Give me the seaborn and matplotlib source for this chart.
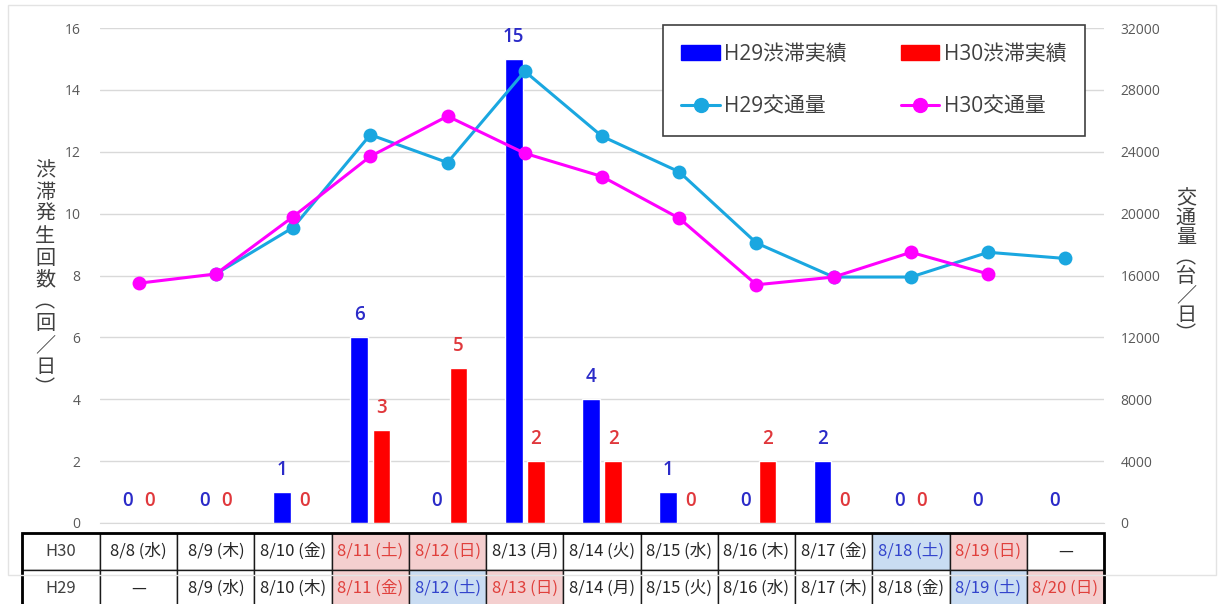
import numpy as np
import pandas as pd
import matplotlib
matplotlib.use('Agg')
import matplotlib.pyplot as plt
from matplotlib.patches import Patch, Rectangle
from matplotlib.lines import Line2D
import seaborn as sns

sns.set_style('white')
plt.rcParams['font.family'] = ['Open Sans', 'Noto Sans CJK JP', 'DejaVu Sans']

# データ
h30_days = ['8/8 (水)', '8/9 (木)', '8/10 (金)', '8/11 (土)', '8/12 (日)', '8/13 (月)', '8/14 (火)',
            '8/15 (水)', '8/16 (木)', '8/17 (金)', '8/18 (土)', '8/19 (日)', '—']
h29_days = ['—', '8/9 (水)', '8/10 (木)', '8/11 (金)', '8/12 (土)', '8/13 (日)', '8/14 (月)',
            '8/15 (火)', '8/16 (水)', '8/17 (木)', '8/18 (金)', '8/19 (土)', '8/20 (日)']
# 曜日の色分け (r: 休日, b: 土曜, k: 平日)
h30_kind = ['k', 'k', 'k', 'r', 'r', 'k', 'k', 'k', 'k', 'k', 'b', 'r', 'k']
h29_kind = ['k', 'k', 'k', 'r', 'b', 'r', 'k', 'k', 'k', 'k', 'k', 'b', 'r']

h29_jam = [0, 0, 1, 6, 0, 15, 4, 1, 0, 2, 0, 0, 0]
h30_jam = [0, 0, 0, 3, 5, 2, 2, 0, 2, 0, 0, np.nan, np.nan]

h29_traffic = [np.nan, 16100, 19100, 25100, 23300, 29200, 25000, 22700, 18100, 15900, 15900, 17500, 17100]
h30_traffic = [15500, 16100, 19800, 23700, 26300, 23900, 22400, 19700, 15400, 15900, 17500, 16100, np.nan]

BLUE = '#0000ff'
RED = '#ff0000'
CYAN = '#1aa7e0'
MAGENTA = '#ff00ff'
GRAY = '#595959'
TXT_COL = {'k': '#262626', 'r': '#e0403c', 'b': '#3344cc'}
CELL_COL = {'k': 'white', 'r': '#f4cfcf', 'b': '#c9dcf2'}

df = pd.DataFrame({
    'day': h30_days * 2,
    'year': ['H29'] * len(h30_days) + ['H30'] * len(h30_days),
    'count': h29_jam + h30_jam,
})

W, H = 1221, 604
fig = plt.figure(figsize=(W / 100, H / 100), dpi=100)
# 外枠
fig.patches.append(Rectangle((8 / W, 1 - 575 / H), 1208 / W, 570 / H, transform=fig.transFigure,
                             fill=False, edgecolor='#e3e3e3', lw=1, zorder=0))
ax = fig.add_axes([100 / W, 1 - 523 / H, 1004 / W, 495 / H])

sns.barplot(data=df, x='day', y='count', hue='year', order=h30_days, hue_order=['H29', 'H30'],
            palette={'H29': BLUE, 'H30': RED}, width=0.57, gap=0.2, saturation=1,
            legend=False, ax=ax)

# 棒のラベル
for cont, col in zip(ax.containers, ['#2b2bc8', '#e0383c']):
    for bar in cont:
        h = bar.get_height()
        if np.isnan(h):
            continue
        ax.annotate(f'{int(h)}', (bar.get_x() + bar.get_width() / 2, h), xytext=(0, 16),
                    textcoords='offset points', ha='center', va='center',
                    fontsize=13.5, color=col, fontweight='semibold')

ax.set_ylim(0, 16)
ax.set_xlim(-0.5, len(h30_days) - 0.5)
ax.set_yticks(np.arange(0, 17, 2))
ax.set_xticks(np.arange(-0.5, len(h30_days), 1), minor=True)
ax.tick_params(axis='x', which='major', length=0, labelbottom=False)
ax.tick_params(axis='x', which='minor', length=5, color='#d9d9d9', width=1)
ax.tick_params(axis='y', length=0, pad=14, labelsize=10, labelcolor=GRAY)
ax.yaxis.grid(True, color='#d9d9d9', lw=1)
ax.set_axisbelow(True)
ax.set_xlabel('')
ax.set_ylabel('')
for s in ['top', 'left', 'right']:
    ax.spines[s].set_visible(False)
ax.spines['bottom'].set_color('#d9d9d9')

# 交通量
ax2 = ax.twinx()
xs = np.arange(len(h30_days))
sns.lineplot(x=xs, y=h29_traffic, color=CYAN, marker='o', markersize=10, markeredgewidth=0,
             linewidth=2.2, ax=ax2)
sns.lineplot(x=xs, y=h30_traffic, color=MAGENTA, marker='o', markersize=10, markeredgewidth=0,
             linewidth=2.2, ax=ax2)
ax2.set_ylim(0, 32000)
ax2.set_yticks(np.arange(0, 32001, 4000))
ax2.tick_params(axis='y', length=0, pad=12, labelsize=10, labelcolor=GRAY)
for s in ax2.spines.values():
    s.set_visible(False)
ax.set_xlim(-0.5, len(h30_days) - 0.5)

# 縦書きの軸ラベル
fig.text(45 / W, 1 - 280 / H, '\n'.join('渋滞発生回数︵回／日︶'), ha='center', va='center',
         fontsize=14.5, linespacing=1.05, color='#404040', family=['Noto Sans CJK JP'])
fig.text(1186 / W, 1 - 267 / H, '\n'.join('交通量︵台／日︶'), ha='center', va='center',
         fontsize=14.5, linespacing=0.9, color='#404040', family=['Noto Sans CJK JP'])

# 凡例
handles = [Patch(color=BLUE), Line2D([], [], color=CYAN, marker='o', markersize=10, lw=2.2),
           Patch(color=RED), Line2D([], [], color=MAGENTA, marker='o', markersize=10, lw=2.2)]
labels = ['H29渋滞実績', 'H29交通量', 'H30渋滞実績', 'H30交通量']
leg = ax2.legend(handles, labels, ncol=2, loc='upper right', bbox_to_anchor=((1085 - 100) / 1004, (523 - 25) / 495),
                 borderaxespad=0, frameon=True, fancybox=False, framealpha=1, edgecolor='#404040',
                 fontsize=15, handlelength=1.85, handletextpad=0.2, columnspacing=2.6, labelspacing=1.5,
                 borderpad=0.9, labelcolor='#404040')
leg.get_frame().set_linewidth(1.2)

# 日付の表
cell_text = [['H30'] + h30_days, ['H29'] + h29_days]
cell_cols = [['white'] + [CELL_COL[k] for k in h30_kind], ['white'] + [CELL_COL[k] for k in h29_kind]]
kinds = [['k'] + h30_kind, ['k'] + h29_kind]
n = len(h30_days)
left = (22 - 100) / 1004
tb_bottom = (523 - 607) / 495
tb_h = (607 - 533) / 495
tbl = ax.table(cellText=cell_text, cellColours=cell_cols, cellLoc='center',
               colWidths=[78] + [1004 / n] * n, bbox=[left, tb_bottom, 1 - left, tb_h])
tbl.auto_set_font_size(False)
for (r, c), cell in tbl.get_celld().items():
    cell.set_edgecolor('#1a1a1a')
    cell.set_linewidth(1)
    t = cell.get_text()
    t.set_fontsize(12)
    t.set_family(['Noto Sans CJK JP'])
    t.set_color(TXT_COL[kinds[r][c]] if c > 0 else '#404040')
ax.add_patch(Rectangle((left, tb_bottom), 1 - left, tb_h, transform=ax.transAxes, fill=False,
                       edgecolor='black', lw=2, clip_on=False, zorder=10))

fig.savefig('out.png', dpi=100)
